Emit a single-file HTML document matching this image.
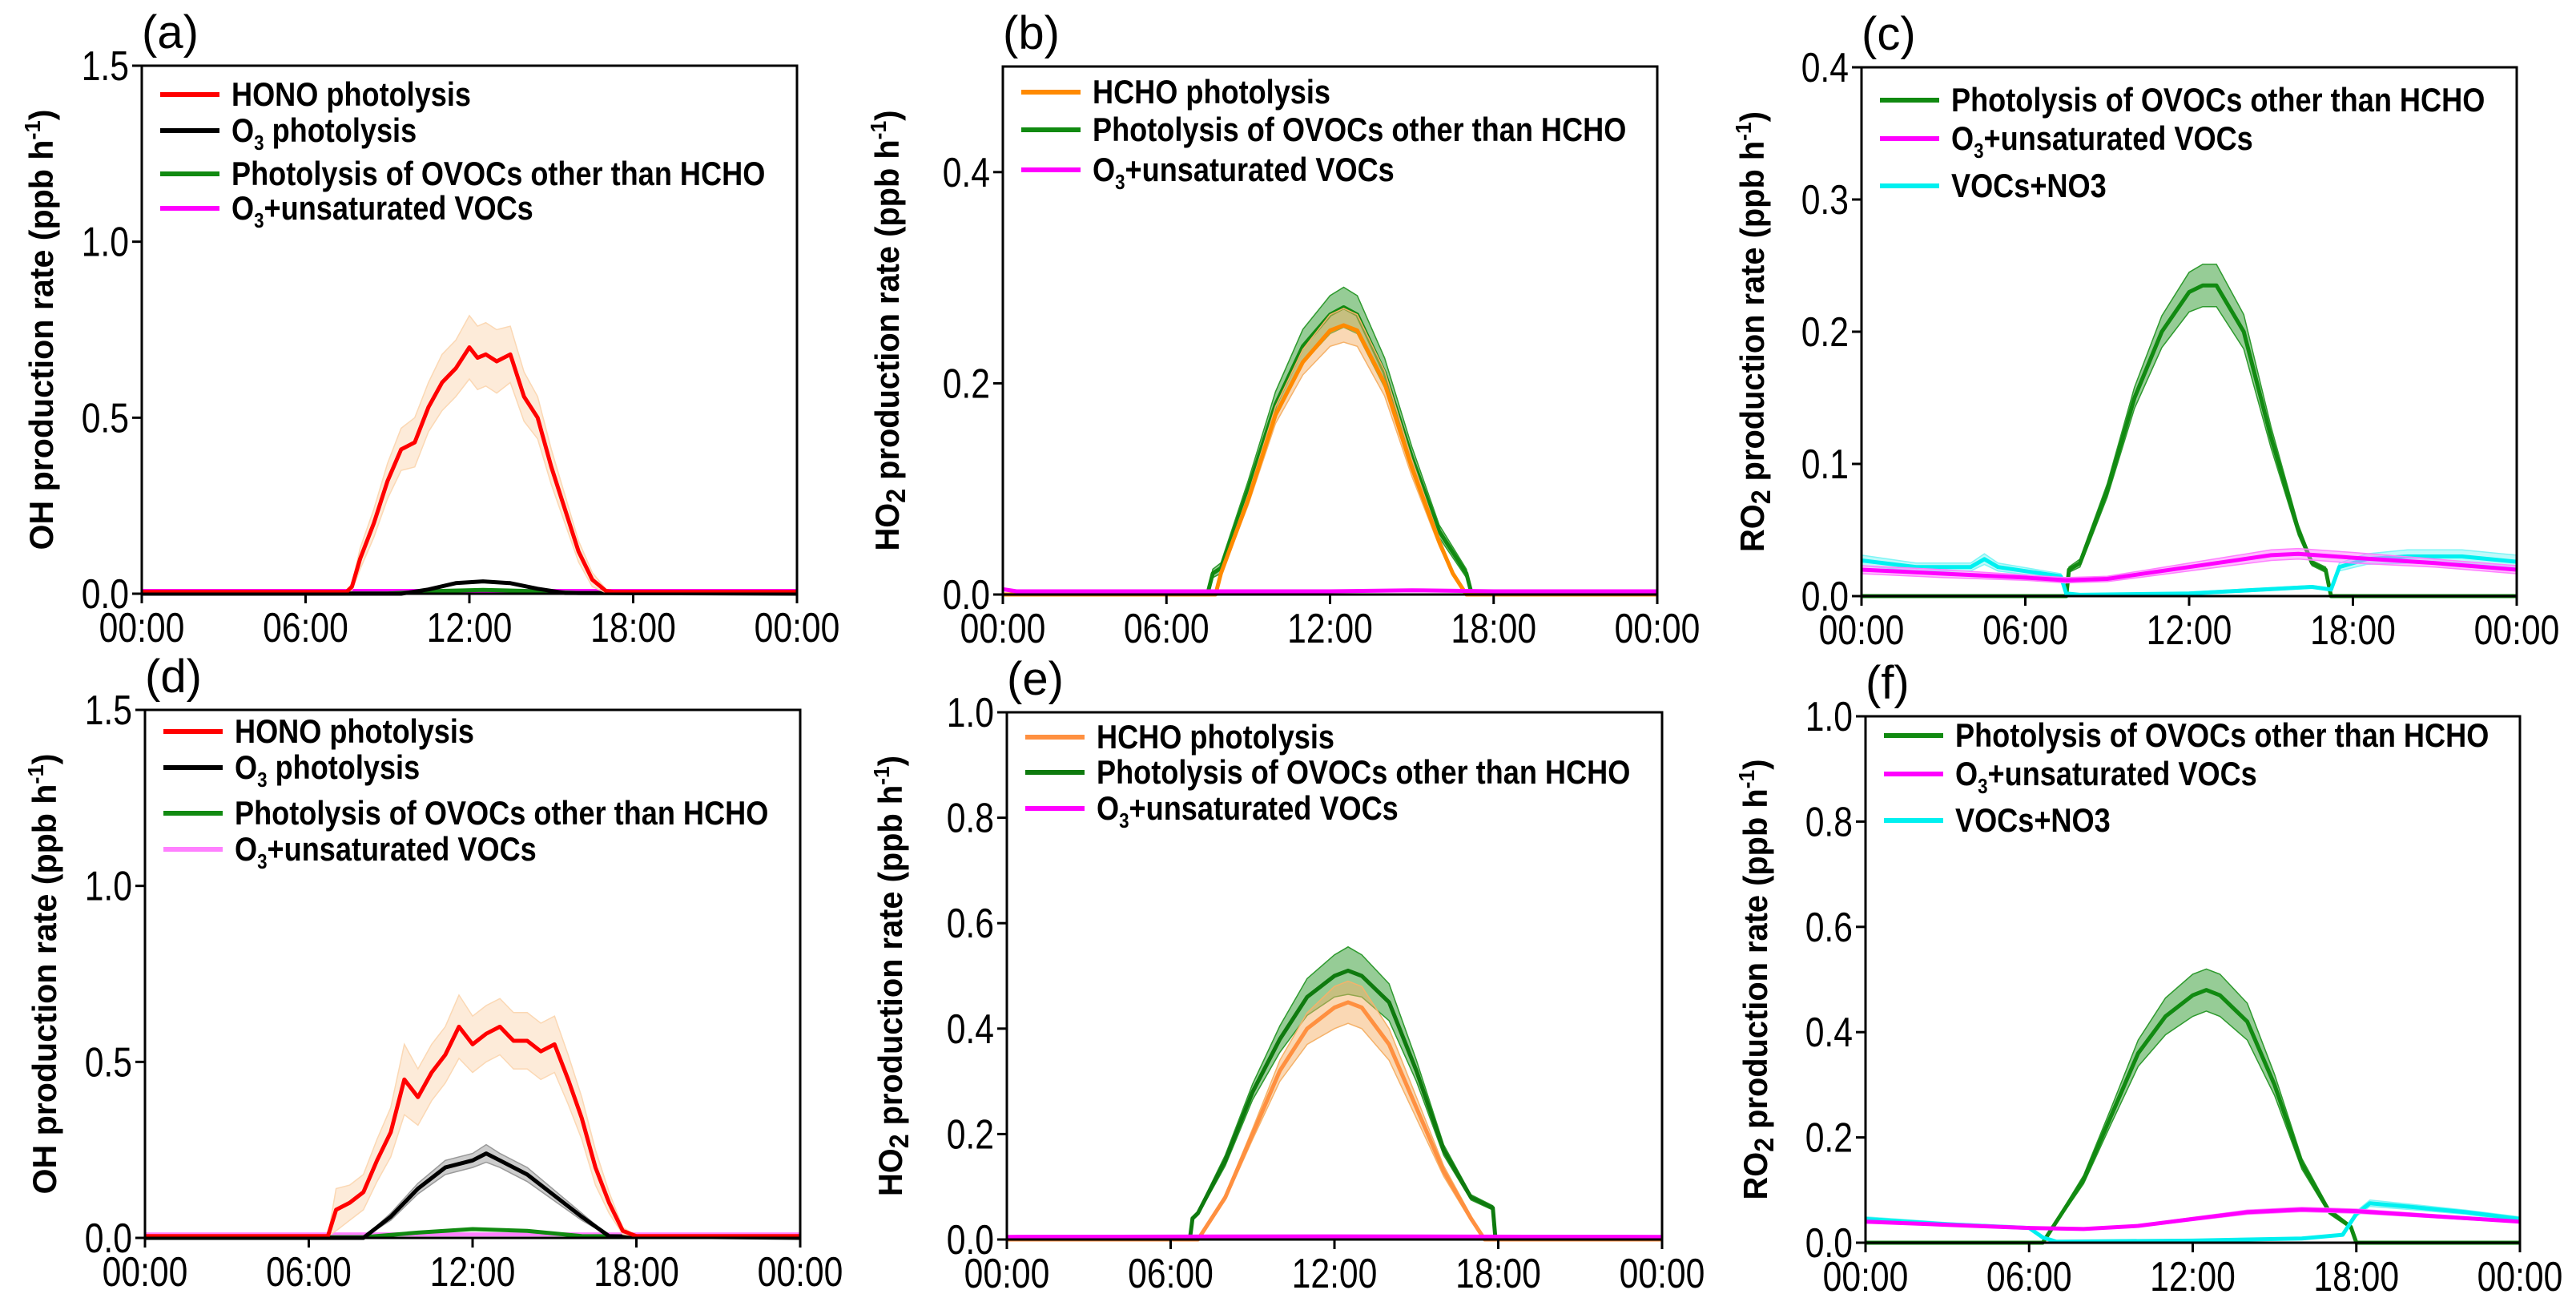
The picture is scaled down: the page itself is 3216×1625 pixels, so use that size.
<!DOCTYPE html>
<html><head><meta charset="utf-8"><style>
html,body{margin:0;padding:0;background:#fff}
svg{display:block}
text{font-family:"Liberation Sans Narrow","Liberation Sans",sans-serif}
</style></head><body>
<svg id="fig" width="3216" height="1625" viewBox="0 0 3216 1625" xmlns="http://www.w3.org/2000/svg"></svg>
<script>
// ---- data (hours, values, error half-widths) ----
const A_HONO_T=[0,7.5,7.7,8,8.5,9,9.5,10,10.5,11,11.5,12,12.3,12.6,13,13.5,14,14.5,15,15.5,16,16.5,17,17.3,24];
const A_HONO_V=[0.005,0.005,0.02,0.1,0.2,0.32,0.41,0.43,0.53,0.6,0.64,0.7,0.67,0.68,0.66,0.68,0.56,0.5,0.36,0.24,0.12,0.04,0.008,0.005,0.005];
const A_HONO_E=[0,0,0.01,0.03,0.04,0.05,0.06,0.07,0.07,0.08,0.08,0.09,0.09,0.09,0.09,0.08,0.07,0.06,0.05,0.04,0.03,0.02,0.005,0,0];
const A_O3_T=[0,9.5,10.5,11.5,12.5,13.5,14.5,15.5,24];
const A_O3_V=[0,0,0.012,0.03,0.035,0.03,0.014,0.002,0];
const A_OV_T=[0,9,11,12.5,14,16,24];
const A_OV_V=[0.001,0.001,0.008,0.011,0.008,0.002,0.001];
const A_PK_T=[0,12,24];
const A_PK_V=[0.008,0.008,0.008];

const B_HCHO_T=[0,7.8,8,9,10,11,12,12.5,13,14,15,16,16.5,17,24];
const B_HCHO_V=[0,0,0.02,0.09,0.17,0.22,0.25,0.255,0.25,0.2,0.12,0.05,0.02,0,0];
const B_HCHO_E=[0,0,0.002,0.005,0.008,0.012,0.015,0.016,0.015,0.012,0.008,0.004,0.002,0,0];
const B_OV_T=[0,7.5,7.7,8,9,10,11,12,12.5,13,14,15,16,17,17.2,24];
const B_OV_V=[0,0,0.02,0.025,0.1,0.18,0.235,0.265,0.272,0.265,0.21,0.13,0.06,0.02,0,0];
const B_OV_E=[0,0,0.004,0.005,0.008,0.012,0.016,0.018,0.019,0.018,0.014,0.01,0.006,0.004,0,0];
const B_PK_T=[0,0.5,6,12,15,18,24];
const B_PK_V=[0.005,0.003,0.003,0.003,0.004,0.003,0.003];

const C_OV_T=[0,7.5,7.6,8,9,10,11,12,12.5,13,14,15,16,16.5,17,17.2,24];
const C_OV_V=[0,0,0.02,0.025,0.08,0.15,0.2,0.23,0.235,0.235,0.2,0.12,0.05,0.025,0.02,0,0];
const C_OV_E=[0,0,0.002,0.003,0.005,0.008,0.012,0.015,0.016,0.016,0.013,0.008,0.004,0.002,0.002,0,0];
const C_PK_T=[0,3,6,7.5,9,12,15,16,18,21,24];
const C_PK_V=[0.02,0.017,0.014,0.012,0.013,0.022,0.031,0.032,0.029,0.025,0.02];
const C_PK_E=[0.003,0.003,0.002,0.002,0.002,0.003,0.004,0.004,0.004,0.003,0.003];
const C_CY_T=[0,2,4,4.5,5,7.3,7.5,8,12,16.5,17.2,17.5,18.5,20,22,24];
const C_CY_V=[0.027,0.022,0.022,0.028,0.022,0.015,0.002,0.001,0.002,0.007,0.005,0.022,0.028,0.03,0.03,0.026];
const C_CY_E=[0.004,0.003,0.003,0.004,0.003,0.002,0.001,0,0.001,0.001,0.001,0.003,0.004,0.005,0.005,0.005];

const D_HONO_T=[0,6.7,7,7.5,8,8.5,9,9.5,10,10.5,11,11.5,12,12.5,13,13.5,14,14.5,15,15.5,16,16.5,17,17.5,18,24];
const D_HONO_V=[0.005,0.005,0.08,0.1,0.13,0.22,0.3,0.45,0.4,0.47,0.52,0.6,0.55,0.58,0.6,0.56,0.56,0.53,0.55,0.45,0.34,0.2,0.1,0.02,0.005,0.005];
const D_HONO_E=[0,0,0.06,0.05,0.05,0.06,0.07,0.1,0.08,0.08,0.08,0.09,0.08,0.08,0.08,0.08,0.08,0.08,0.08,0.07,0.06,0.05,0.03,0.01,0,0];
const D_O3_T=[0,8,9,10,11,12,12.5,13,14,15,16,17,24];
const D_O3_V=[0,0,0.06,0.14,0.2,0.22,0.24,0.22,0.18,0.12,0.06,0.005,0];
const D_O3_E=[0,0,0.01,0.015,0.02,0.02,0.025,0.02,0.02,0.015,0.01,0,0];
const D_OV_T=[0,8,10,12,14,16,24];
const D_OV_V=[0.002,0.002,0.015,0.025,0.02,0.005,0.002];
const D_PK_T=[0,12,24];
const D_PK_V=[0.01,0.01,0.01];

const E_HCHO_T=[0,7,8,9,10,11,12,12.5,13,14,15,16,17,17.5,24];
const E_HCHO_V=[0,0,0.08,0.2,0.32,0.4,0.44,0.45,0.44,0.37,0.25,0.13,0.04,0,0];
const E_HCHO_E=[0,0,0.005,0.01,0.02,0.03,0.04,0.04,0.04,0.03,0.02,0.01,0.005,0,0];
const E_OV_T=[0,6.7,6.8,7,8,9,10,11,12,12.5,13,14,15,16,17,17.8,17.9,24];
const E_OV_V=[0,0,0.04,0.05,0.15,0.28,0.38,0.46,0.5,0.51,0.5,0.45,0.32,0.17,0.08,0.06,0,0];
const E_OV_E=[0,0,0.003,0.004,0.01,0.015,0.025,0.035,0.04,0.045,0.04,0.035,0.02,0.01,0.005,0.004,0,0];
const E_PK_T=[0,12,24];
const E_PK_V=[0.005,0.006,0.005];

const F_OV_T=[0,6.5,7,8,9,10,11,12,12.5,13,14,15,16,17,17.8,18,24];
const F_OV_V=[0,0,0.04,0.12,0.24,0.36,0.43,0.47,0.48,0.47,0.42,0.3,0.15,0.06,0.03,0,0];
const F_OV_E=[0,0,0.003,0.008,0.015,0.025,0.035,0.04,0.04,0.04,0.035,0.02,0.01,0.005,0.003,0,0];
const F_PK_T=[0,3,6,8,10,12,14,16,18,21,24];
const F_PK_V=[0.04,0.034,0.028,0.026,0.032,0.045,0.058,0.063,0.06,0.05,0.04];
const F_PK_E=[0.002,0.002,0.002,0.002,0.002,0.003,0.004,0.004,0.004,0.003,0.002];
const F_CY_T=[0,3,6,6.5,7,12,16,17.5,18,18.5,20,22,24];
const F_CY_V=[0.045,0.035,0.028,0.01,0.002,0.004,0.008,0.015,0.055,0.075,0.068,0.058,0.045];
const F_CY_E=[0.004,0.003,0.002,0.001,0,0.001,0.001,0.002,0.005,0.006,0.005,0.004,0.004];

const X_TICKS=["00:00","06:00","12:00","18:00","00:00"];
const TICKS_A=[0,0.5,1.0,1.5], TICKS_B=[0,0.2,0.4], TICKS_C=[0,0.1,0.2,0.3,0.4], TICKS_E=[0,0.2,0.4,0.6,0.8,1.0];

const NS="http://www.w3.org/2000/svg";
const svg=document.getElementById('fig');
function mk(tag,attrs,parent){const e=document.createElementNS(NS,tag);for(const k in attrs)e.setAttribute(k,attrs[k]);(parent||svg).appendChild(e);return e;}
function squeeze(t,f){try{const w=t.getComputedTextLength();if(w>0){t.setAttribute('textLength',(w*f).toFixed(1));t.setAttribute('lengthAdjust','spacingAndGlyphs');}}catch(e){}}

const panels=[
 {id:'a',L:177,R:995,T:82,B:741,ymax:1.5,ticks:TICKS_A,dec:1,ylab:'OH',lx:52,
  leg:[[36,'#ff0000','HONO photolysis'],[81,'#000','O|3| photolysis'],[135,'#118a11',' Photolysis of OVOCs other than HCHO'],[178,'#ff00ff','O|3|+unsaturated VOCs']],
  series:[[A_PK_T,A_PK_V,null,'#ff00ff',null],[A_OV_T,A_OV_V,null,'#118a11',null],[A_O3_T,A_O3_V,null,'#000',null],[A_HONO_T,A_HONO_V,A_HONO_E,'#ff0000','#fbd8b4']]},
 {id:'b',L:1252,R:2069,T:83,B:742,ymax:0.5,ticks:TICKS_B,dec:1,ylab:'HO2',lx:1108,
  leg:[[32,'#ff8a00','HCHO photolysis'],[79,'#118a11','Photolysis of OVOCs other than HCHO'],[129,'#ff00ff','O|3|+unsaturated VOCs']],
  series:[[B_OV_T,B_OV_V,B_OV_E,'#118a11','#2e9a2e'],[B_HCHO_T,B_HCHO_V,B_HCHO_E,'#ff8a00','#f5b26a'],[B_PK_T,B_PK_V,null,'#ff00ff',null]]},
 {id:'c',L:2324,R:3142,T:84,B:744,ymax:0.4,ticks:TICKS_C,dec:1,ylab:'RO2',lx:2188,
  leg:[[41,'#118a11','Photolysis of OVOCs other than HCHO'],[89,'#ff00ff','O|3|+unsaturated VOCs'],[148,'#00f0f0','VOCs+NO3']],
  series:[[C_OV_T,C_OV_V,C_OV_E,'#118a11','#2e9a2e'],[C_CY_T,C_CY_V,C_CY_E,'#00f0f0','#7ff5f5'],[C_PK_T,C_PK_V,C_PK_E,'#ff00ff','#ff80ff']]},
 {id:'d',L:181,R:999,T:886,B:1545,ymax:1.5,ticks:TICKS_A,dec:1,ylab:'OH',lx:56,
  leg:[[27,'#ff0000','HONO photolysis'],[72,'#000','O|3| photolysis'],[129,'#118a11','Photolysis of OVOCs other than HCHO'],[174,'#ff80ff','O|3|+unsaturated VOCs']],
  series:[[D_PK_T,D_PK_V,null,'#ff80ff',null],[D_OV_T,D_OV_V,null,'#118a11',null],[D_O3_T,D_O3_V,D_O3_E,'#000','#999'],[D_HONO_T,D_HONO_V,D_HONO_E,'#ff0000','#fbd8b4']]},
 {id:'e',L:1257,R:2075,T:889,B:1547,ymax:1.0,ticks:TICKS_E,dec:1,ylab:'HO2',lx:1112,
  leg:[[31,'#ff9040','HCHO photolysis'],[75,'#0e7a0e','Photolysis of OVOCs other than HCHO'],[120,'#ff00ff','O|3|+unsaturated VOCs']],
  series:[[E_OV_T,E_OV_V,E_OV_E,'#0e7a0e','#2e9a2e'],[E_HCHO_T,E_HCHO_V,E_HCHO_E,'#ff9040','#f5b26a'],[E_PK_T,E_PK_V,null,'#ff00ff',null]]},
 {id:'f',L:2329,R:3146,T:894,B:1551,ymax:1.0,ticks:TICKS_E,dec:1,ylab:'RO2',lx:2192,
  leg:[[24,'#118a11','Photolysis of OVOCs other than HCHO'],[72,'#ff00ff','O|3|+unsaturated VOCs'],[130,'#00f0f0','VOCs+NO3']],
  series:[[F_OV_T,F_OV_V,F_OV_E,'#118a11','#2e9a2e'],[F_CY_T,F_CY_V,F_CY_E,'#00f0f0','#7ff5f5'],[F_PK_T,F_PK_V,F_PK_E,'#ff00ff','#ff80ff']]}
];

panels.forEach(p=>{
  const g=mk('g',{});
  
  
  const xs=t=>p.L+t/24*(p.R-p.L);
  const ys=v=>p.B-v/p.ymax*(p.B-p.T);
  p.series.forEach((s,si)=>{
    const [T,V,E,col,bcol]=s;
    if(E){
      let up=T.map((t,i)=>xs(t).toFixed(1)+','+ys(V[i]+E[i]).toFixed(1));
      let dn=T.map((t,i)=>xs(t).toFixed(1)+','+ys(Math.max(0,V[i]-E[i])).toFixed(1)).reverse();
      const b=mk('polygon',{points:up.concat(dn).join(' '),fill:bcol,'fill-opacity':0.5,stroke:bcol,'stroke-width':1.5},g);
      
      
    }
    const l=mk('polyline',{points:T.map((t,i)=>xs(t).toFixed(1)+','+ys(V[i]).toFixed(1)).join(' '),fill:'none',stroke:col,'stroke-width':5,'stroke-linejoin':'round'},g);
    
    
  });
  const fr=mk('rect',{x:p.L,y:p.T,width:p.R-p.L,height:p.B-p.T,fill:'none',stroke:'#000','stroke-width':3},g);
  
  
  p.ticks.forEach(v=>{
    mk('line',{x1:p.L-12,x2:p.L,y1:ys(v),y2:ys(v),stroke:'#000','stroke-width':3},g);
    const t=mk('text',{x:p.L-16,y:ys(v)+18,'text-anchor':'end','font-size':52},g);
    t.textContent=v.toFixed(p.dec);
    
    
    squeeze(t,0.82);
  });
  X_TICKS.forEach((lab,i)=>{
    const x=xs(i*6);
    mk('line',{x1:x,x2:x,y1:p.B,y2:p.B+12,stroke:'#000','stroke-width':3},g);
    const t=mk('text',{x:x,y:p.B+60,'text-anchor':'middle','font-size':52},g);
    t.textContent=lab;
    
    
    squeeze(t,0.82);
  });
  const cy=(p.T+p.B)/2;
  const yl=mk('text',{x:0,y:0,transform:`translate(${p.lx+14},${cy}) rotate(-90)`,'text-anchor':'middle','font-size':42,'font-weight':'bold',style:'font-family:"Liberation Sans",sans-serif',textLength:550,lengthAdjust:'spacingAndGlyphs'},g);
  
  
  if(p.ylab==='OH'){yl.innerHTML='OH production rate (ppb h<tspan dy="-16" font-size="28">-1</tspan><tspan dy="16">)</tspan>';}
  else {yl.innerHTML=p.ylab.slice(0,2)+'<tspan dy="8" font-size="34">2</tspan><tspan dy="-8"> production rate (ppb h</tspan><tspan dy="-16" font-size="28">-1</tspan><tspan dy="16">)</tspan>';}
  const pl=mk('text',{x:p.L,y:p.T-22,'font-size':58},g);
  pl.textContent='('+p.id+')';
  
  
  p.leg.forEach(([dy,col,lab])=>{
    const y=p.T+dy;
    const ll=mk('line',{x1:p.L+23,x2:p.L+97,y1:y,y2:y,stroke:col,'stroke-width':6},g);
    
    
    const t=mk('text',{x:p.L+112,y:y+14,'font-size':42,'font-weight':'bold'},g);
    const parts=lab.split('|');
    if(parts.length===3) t.innerHTML=parts[0]+'<tspan dy="10" font-size="26">'+parts[1]+'</tspan><tspan dy="-10">'+parts[2]+'</tspan>';
    else t.textContent=lab;
    
    
    squeeze(t,0.86);
  });
});
</script>
</body></html>
